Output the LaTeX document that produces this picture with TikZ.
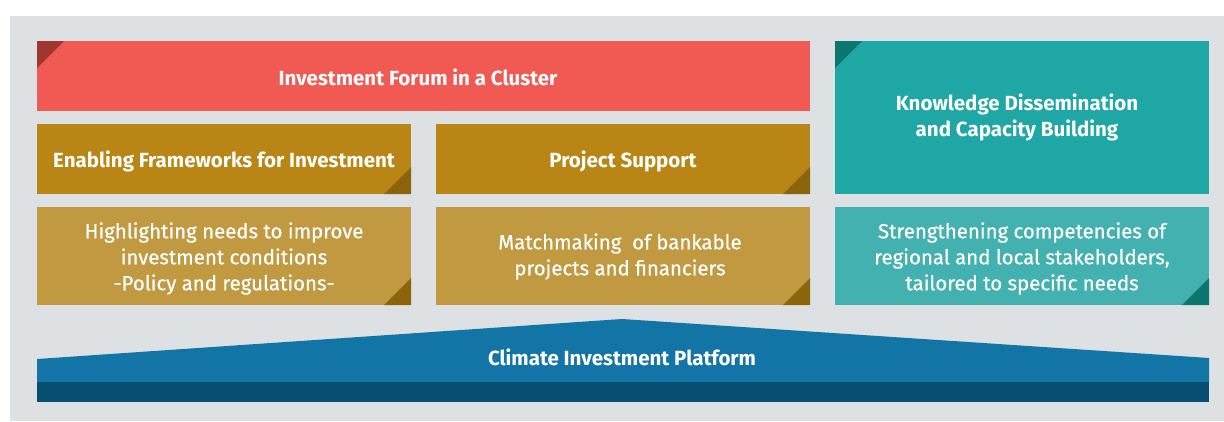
\documentclass[tikz,border=0pt]{standalone}
\usepackage{fontspec}
\setmainfont{Fira Sans}
\newfontfamily\bodyfont{Fira Sans}[FakeBold=0.6]
\definecolor{bggrey}{HTML}{DDE1E4}
\definecolor{cred}{HTML}{F15A52}
\definecolor{cdarkred}{HTML}{A1352F}
\definecolor{cmustard}{HTML}{B98615}
\definecolor{cdarkmustard}{HTML}{8B640B}
\definecolor{clightmustard}{HTML}{C19940}
\definecolor{cteal}{HTML}{1EA7A5}
\definecolor{cdarkteal}{HTML}{0E7670}
\definecolor{clightteal}{HTML}{43B1AF}
\definecolor{cblue}{HTML}{1275A5}
\definecolor{cdarkblue}{HTML}{074F72}
\tikzset{
  box/.style={rectangle, inner sep=0pt, outer sep=0pt, text=white, align=center},
  headtext/.style={font=\fontsize{20.5}{26}\selectfont\bfseries},
  bodytext/.style={font=\fontsize{20.4}{26}\selectfont\bodyfont},
  lbl/.style={inner sep=0pt, outer sep=0pt, text=white, align=center},
}
\begin{document}
\begin{tikzpicture}[x=1pt,y=-1pt]
\useasboundingbox (0,0) rectangle (1224,421);
\fill[bggrey] (10,16) rectangle (1224,421);
% top band
\node[box, fill=cred, minimum width=773pt, minimum height=70pt] (forum) at (423.5,76) {};
\node[lbl, headtext] (forumtxt) at (418,77.5) {Investment Forum in a Cluster};
\fill[cdarkred] (forum.north west) -- ++(27,0) -- ++(-27,27) -- cycle;
% teal big
\node[box, fill=cteal, minimum width=374pt, minimum height=153pt] (knowledge) at (1022,117.5) {};
\node[lbl, headtext] (knowtxt) at (1017,117.5) {Knowledge Dissemination\\and Capacity Building};
\fill[cdarkteal] (knowledge.north west) -- ++(27,0) -- ++(-27,27) -- cycle;
% mustard headers
\node[box, fill=cmustard, minimum width=374pt, minimum height=70pt] (enabling) at (224,159) {};
\node[lbl, headtext] (enabtxt) at (224,161.5) {Enabling Frameworks for Investment};
\fill[cdarkmustard] (enabling.south east) -- ++(-27,0) -- ++(27,-27) -- cycle;
\node[box, fill=cmustard, minimum width=374pt, minimum height=70pt] (project) at (623,159) {};
\node[lbl, headtext] (projtxt) at (623,161.5) {Project Support};
\fill[cdarkmustard] (project.south east) -- ++(-27,0) -- ++(27,-27) -- cycle;
% second row
\node[box, fill=clightmustard, minimum width=374pt, minimum height=98pt] (highlight) at (224,256) {};
\node[lbl, bodytext] (hightxt) at (224,258.5) {Highlighting needs to improve\\investment conditions\\-Policy and regulations-};
\fill[cdarkmustard] (highlight.south east) -- ++(-27,0) -- ++(27,-27) -- cycle;
\node[box, fill=clightmustard, minimum width=374pt, minimum height=98pt] (match) at (623,256) {};
\node[lbl, bodytext] (matchtxt) at (620,256.5) {Matchmaking\ \ of bankable\\projects and financiers};
\fill[cdarkmustard] (match.south east) -- ++(-27,0) -- ++(27,-27) -- cycle;
\node[box, fill=clightteal, minimum width=374pt, minimum height=98pt] (strength) at (1022,256) {};
\node[lbl, bodytext] (strtxt) at (1022,258.5) {Strengthening competencies of\\regional and local stakeholders,\\tailored to specific needs};
\fill[cdarkteal] (strength.south east) -- ++(-27,0) -- ++(27,-27) -- cycle;
% platform
\fill[cblue] (37,359) -- (622,319) -- (1209,358) -- (1209,382) -- (37,382) -- cycle;
\fill[cdarkblue] (37,382) rectangle (1209,402);
\node[lbl, headtext] (platform) at (622,357) {Climate Investment Platform};
\end{tikzpicture}
\end{document}
